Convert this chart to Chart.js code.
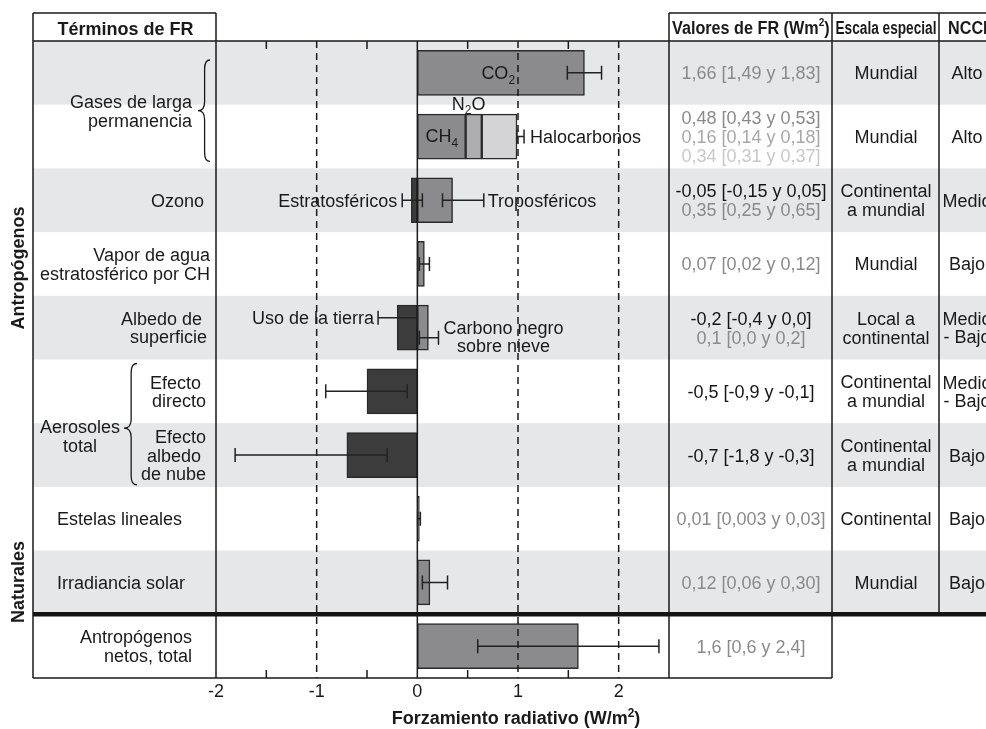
<!DOCTYPE html>
<html>
<head>
<meta charset="utf-8">
<script src="https://cdn.jsdelivr.net/npm/chart.js@4/dist/chart.umd.min.js"></script>
<style>
html,body{margin:0;padding:0;background:#fff;}
#wrap{width:986px;height:729px;position:relative;overflow:hidden;}
canvas{display:block;}
</style>
</head>
<body>
<div id="wrap"><canvas id="c" width="986" height="729"></canvas></div>
<script>
// ---------------- DATA ----------------
const categories = ['CO2','Otros gases','Ozono','Vapor de agua','Albedo de superficie','Efecto directo','Efecto albedo de nube','Estelas lineales','Irradiancia solar','Antropógenos netos'];

// floating bars [start, end] in W/m2 (null = no bar in that row)
const greyBars  = [[0,1.66],[0,0.48],[0,0.35],[0,0.07],[0,0.11],null,null,null,[0,0.125],[0,1.6]];
const n2oBars   = [null,[0.48,0.64],null,null,null,null,null,null,null,null];
const haloBars  = [null,[0.64,0.99],null,null,null,null,null,null,null,null];
const darkBars  = [null,null,[-0.06,0],null,[-0.2,0],[-0.5,0],[-0.7,0],[0,0.02],null,null];

// uncertainty ranges
const errRow  = [0,    1,    2,     2,    3,    4,     4,    5,     6,     7,     8,    9  ];
const errLow  = [1.49, 0.99, -0.15, 0.25, 0.02, -0.39, 0.02, -0.91, -1.81, 0.003, 0.05, 0.6];
const errHigh = [1.83, 1.06, 0.05,  0.66, 0.12, 0.0,   0.21, -0.10, -0.30, 0.03,  0.30, 2.4];

// x tick values are produced by the scale; labels shown at integers
const xTickLabels = ['-2','-1','0','1','2'];

// table columns
const valueText = [
  [['1,66 [1,49 y 1,83]','g1']],
  [['0,48 [0,43 y 0,53]','g1'],['0,16 [0,14 y 0,18]','g2'],['0,34 [0,31 y 0,37]','g3']],
  [['-0,05 [-0,15 y 0,05]','k'],['0,35 [0,25 y 0,65]','g1']],
  [['0,07 [0,02 y 0,12]','g1']],
  [['-0,2 [-0,4 y 0,0]','k'],['0,1 [0,0 y 0,2]','g1']],
  [['-0,5 [-0,9 y -0,1]','k']],
  [['-0,7 [-1,8 y -0,3]','k']],
  [['0,01 [0,003 y 0,03]','g1']],
  [['0,12 [0,06 y 0,30]','g1']],
  [['1,6 [0,6 y 2,4]','g1']]
];
const escala = [['Mundial'],['Mundial'],['Continental','a mundial'],['Mundial'],['Local a','continental'],['Continental','a mundial'],['Continental','a mundial'],['Continental'],['Mundial'],[]];
const nivel  = [['Alto'],['Alto'],['Medio'],['Bajo'],['Medio','- Bajo'],['Medio','- Bajo'],['Bajo'],['Bajo'],['Bajo'],[]];

// row labels in the "Términos de FR" column
const rowLabels = [
  [], [], ['Ozono'], ['Vapor de agua','estratosférico por CH'], ['Albedo de ','superficie'],
  ['Efecto ','directo'], ['Efecto','albedo ','de nube'], ['Estelas lineales'], ['Irradiancia solar'],
  ['Antropógenos','netos, total']
];

// ---------------- STYLE ----------------
const FONT = '"Liberation Sans", Arial, Helvetica, sans-serif';
const fnt = (s, b) => (b ? 'bold ' : '') + s + 'px ' + FONT;
const INK = '#1a1a1a';
const TXT = {k:'#151515', g1:'#8a8a8c', g2:'#a8a8aa', g3:'#c8c8ca'};
const ROWGREY = '#e6e7e9';
const TABLE_LEFT = 33, TABLE_TOP = 13, FIG_RIGHT = 986;
const COL_EDGES = [163, 270]; // offsets of column borders from chart right
const VAL_CENTER = 82, ESC_CENTER = 217, NIV_CENTER = 298; // offsets from chart right
const errShift = [0,0,0,0,0,-10,10,0,0,0,0,0];
const rowLabelPos = [null,null,['right',204],['right',210],['right',207],['right',206],['right',206],['left',57],['left',57],['right',192]];

function drawLines(ctx, lines, x, yc, lh, size, bold, align, colorFn) {
  ctx.font = fnt(size, bold);
  ctx.textAlign = align;
  ctx.textBaseline = 'alphabetic';
  const n = lines.length;
  lines.forEach((ln, k) => {
    const t = Array.isArray(ln) ? ln[0] : ln;
    ctx.fillStyle = colorFn ? colorFn(ln) : INK;
    ctx.fillText(t, x, yc + (k - (n - 1) / 2) * lh + size * 0.36);
  });
}
function richWidth(ctx, segs, size, bold) {
  let w = 0;
  segs.forEach(s => { ctx.font = fnt(s[1] ? size * 0.66 : size, bold); w += ctx.measureText(s[0]).width; });
  return w;
}
function drawRich(ctx, segs, x, yc, align, size, bold, color) {
  const w = richWidth(ctx, segs, size, bold);
  let cx = align === 'right' ? x - w : align === 'center' ? x - w / 2 : x;
  ctx.textAlign = 'left'; ctx.textBaseline = 'alphabetic'; ctx.fillStyle = color || INK;
  const base = yc + size * 0.36;
  segs.forEach(s => {
    const sz = s[1] ? size * 0.66 : size;
    ctx.font = fnt(sz, bold);
    const dy = s[1] === 'sub' ? size * 0.25 : s[1] === 'sup' ? -size * 0.4 : 0;
    ctx.fillText(s[0], cx, base + dy);
    cx += ctx.measureText(s[0]).width;
  });
}
function fitText(ctx, segs, cx, base, width, size, align) {
  const w = richWidth(ctx, segs, size, true);
  const sc = width ? Math.min(1, width / w) : 0.9;
  ctx.save();
  ctx.translate(cx, base);
  ctx.scale(sc, 1);
  let x0 = align === 'left' ? 0 : -w / 2;
  ctx.textAlign = 'left';
  ctx.textBaseline = 'alphabetic';
  ctx.fillStyle = INK;
  segs.forEach(s => {
    const sz = s[1] ? size * 0.62 : size;
    ctx.font = fnt(sz, true);
    ctx.fillText(s[0], x0, s[1] === 'sup' ? -size * 0.42 : 0);
    x0 += ctx.measureText(s[0]).width;
  });
  ctx.restore();
}
function brace(ctx, xTip, w, y0, y1, ym) {
  const r = 9;
  const xs = xTip + w * 0.55;
  ctx.beginPath();
  ctx.moveTo(xTip + w, y0);
  ctx.quadraticCurveTo(xs, y0, xs, y0 + r);
  ctx.lineTo(xs, ym - r);
  ctx.quadraticCurveTo(xs, ym, xTip, ym);
  ctx.quadraticCurveTo(xs, ym, xs, ym + r);
  ctx.lineTo(xs, y1 - r);
  ctx.quadraticCurveTo(xs, y1, xTip + w, y1);
  ctx.stroke();
}

const figurePlugin = {
  id: 'figure',
  beforeDatasetsDraw(chart) {
    const {ctx, chartArea: a, scales: {x, y}} = chart;
    const H = y.getPixelForValue(1) - y.getPixelForValue(0);
    ctx.save();
    // alternating row shading
    categories.forEach((c, i) => {
      if (i % 2 === 0) {
        const yc = y.getPixelForValue(i);
        ctx.fillStyle = ROWGREY;
        ctx.fillRect(TABLE_LEFT, yc - H / 2, FIG_RIGHT - TABLE_LEFT, H);
      }
    });
    // row labels
    rowLabels.forEach((lines, i) => {
      if (!lines.length) return;
      const p = rowLabelPos[i];
      drawLines(ctx, lines, p[1], y.getPixelForValue(i), 18.5, 18, false, p[0]);
    });
    // group labels with braces
    ctx.strokeStyle = INK; ctx.lineWidth = 1.3;
    const g0 = y.getPixelForValue(0) - H / 2 + 19, g1 = y.getPixelForValue(1) + H / 2 - 7;
    const gm = (g0 + g1) / 2;
    brace(ctx, 198, 12, g0, g1, gm);
    drawLines(ctx, ['Gases de larga','permanencia'], 192, gm, 19, 18, false, 'right');
    const a0 = y.getPixelForValue(5) - H / 2 + 4, a1 = y.getPixelForValue(6) + H / 2 - 2;
    const am = (y.getPixelForValue(5) + y.getPixelForValue(6)) / 2 + 5;
    brace(ctx, 124, 13, a0, a1, am);
    drawLines(ctx, ['Aerosoles','total'], 80, am + 8, 19, 18, false, 'center');
    // side group titles
    ctx.fillStyle = INK; ctx.font = fnt(18, true); ctx.textAlign = 'center'; ctx.textBaseline = 'middle';
    [['Antropógenos', 268], ['Naturales', 582]].forEach(([t, yy]) => {
      ctx.save(); ctx.translate(19, yy); ctx.rotate(-Math.PI / 2); ctx.fillText(t, 0, 0); ctx.restore();
    });
    // table columns text
    valueText.forEach((lines, i) => {
      drawLines(ctx, lines, a.right + VAL_CENTER, y.getPixelForValue(i), 19, 18, false, 'center', ln => TXT[ln[1]]);
    });
    escala.forEach((lines, i) => {
      if (lines.length) drawLines(ctx, lines, a.right + ESC_CENTER, y.getPixelForValue(i), 19, 18, false, 'center');
    });
    nivel.forEach((lines, i) => {
      if (lines.length) drawLines(ctx, lines, a.right + NIV_CENTER, y.getPixelForValue(i), 18, 18, false, 'center');
    });
    // headers
    ctx.fillStyle = INK; ctx.font = fnt(18, true); ctx.textAlign = 'center'; ctx.textBaseline = 'alphabetic';
    ctx.fillText('Términos de FR', (TABLE_LEFT + a.left) / 2 + 1, 34.5);
    fitText(ctx, [['Valores de FR (Wm'], ['2', 'sup'], [')']], a.right + VAL_CENTER, 33.5, 158, 18);
    fitText(ctx, [['Escala especial']], a.right + ESC_CENTER, 33.5, 101, 18);
    fitText(ctx, [['NCCI']], a.right + 279, 33.5, 0, 18, 'left');
    ctx.restore();
  },
  afterDatasetsDraw(chart) {
    const {ctx, chartArea: a, scales: {x, y}} = chart;
    ctx.save();
    ctx.strokeStyle = INK;
    // dashed reference lines and inward ticks
    x.ticks.forEach(t => {
      const px = x.getPixelForValue(t.value);
      if (t.value === x.min || t.value === x.max) return;
      ctx.lineWidth = 1.5;
      if (Number.isInteger(t.value)) {
        ctx.setLineDash(t.value === 0 ? [] : [7, 5]);
        ctx.beginPath(); ctx.moveTo(px, a.top); ctx.lineTo(px, a.bottom); ctx.stroke();
        ctx.setLineDash([]);
      } else {
        ctx.beginPath();
        ctx.moveTo(px, a.top); ctx.lineTo(px, a.top + 8);
        ctx.moveTo(px, a.bottom); ctx.lineTo(px, a.bottom - 8);
        ctx.stroke();
      }
    });
    // error bars
    ctx.lineWidth = 1.5; ctx.strokeStyle = '#222';
    const ep = errRow.map((r, k) => ({
      y: y.getPixelForValue(r) + errShift[k],
      x0: x.getPixelForValue(errLow[k]),
      x1: x.getPixelForValue(errHigh[k])
    }));
    ep.forEach(e => {
      ctx.beginPath();
      ctx.moveTo(e.x0, e.y); ctx.lineTo(e.x1, e.y);
      ctx.moveTo(e.x0, e.y - 7); ctx.lineTo(e.x0, e.y + 7);
      ctx.moveTo(e.x1, e.y - 7); ctx.lineTo(e.x1, e.y + 7);
      ctx.stroke();
    });
    // annotations
    const rc = i => y.getPixelForValue(i);
    drawRich(ctx, [['CO'], ['2', 'sub']], x.getPixelForValue(0.97), rc(0), 'right', 18, false);
    drawRich(ctx, [['CH'], ['4', 'sub']], x.getPixelForValue(0.08), rc(1) - 1, 'left', 18, false);
    drawRich(ctx, [['N'], ['2', 'sub'], ['O']], x.getPixelForValue(0.51), rc(1) - 22.5 - 11, 'center', 18, false);
    drawRich(ctx, [['Halocarbonos']], ep[1].x1 + 6, ep[1].y, 'left', 18, false);
    drawRich(ctx, [['Estratosféricos']], ep[2].x0 - 5, ep[2].y, 'right', 18, false);
    drawRich(ctx, [['Troposféricos']], ep[3].x1 + 4, ep[3].y, 'left', 18, false);
    drawRich(ctx, [['Uso de la tierra']], ep[5].x0 - 4, ep[5].y, 'right', 18, false);
    ctx.font = fnt(18, false);
    const wb = ctx.measureText('Carbono negro').width;
    drawLines(ctx, ['Carbono negro', 'sobre nieve'], ep[6].x1 + 5 + wb / 2, ep[6].y - 1, 18.5, 18, false, 'center');
    // table frame
    ctx.strokeStyle = INK; ctx.lineWidth = 1.5;
    const sepY = (y.getPixelForValue(8) + y.getPixelForValue(9)) / 2;
    const c1 = a.right + COL_EDGES[0], c2 = a.right + COL_EDGES[1];
    ctx.beginPath();
    [TABLE_LEFT, a.left, a.right, c1].forEach(xx => { ctx.moveTo(xx, TABLE_TOP); ctx.lineTo(xx, a.bottom); });
    ctx.moveTo(c2, TABLE_TOP); ctx.lineTo(c2, sepY);
    ctx.moveTo(TABLE_LEFT, TABLE_TOP); ctx.lineTo(a.left, TABLE_TOP);
    ctx.moveTo(a.right, TABLE_TOP); ctx.lineTo(FIG_RIGHT, TABLE_TOP);
    ctx.moveTo(TABLE_LEFT, a.top); ctx.lineTo(FIG_RIGHT, a.top);
    ctx.moveTo(TABLE_LEFT, a.bottom); ctx.lineTo(c1, a.bottom);
    ctx.stroke();
    ctx.lineWidth = 4.5; ctx.strokeStyle = '#151515';
    ctx.beginPath(); ctx.moveTo(TABLE_LEFT, sepY); ctx.lineTo(FIG_RIGHT, sepY); ctx.stroke();
    // x axis title
    drawRich(ctx, [['Forzamiento radiativo (W/m'], ['2', 'sup'], [')']], 516, 718, 'center', 18, true);
    ctx.restore();
  }
};

const common = {borderColor: '#2a2a2a', borderWidth: 1.5, barThickness: 45, grouped: false, borderSkipped: false};
new Chart(document.getElementById('c'), {
  type: 'bar',
  data: {
    labels: categories,
    datasets: [
      Object.assign({label: 'Principal', data: greyBars, backgroundColor: '#8b8b8d'}, common),
      Object.assign({label: 'N2O', data: n2oBars, backgroundColor: '#aeaeb0'}, common),
      Object.assign({label: 'Halocarbonos', data: haloBars, backgroundColor: '#d4d4d6'}, common),
      Object.assign({label: 'Negativos', data: darkBars, backgroundColor: '#3c3c3c'}, common)
    ]
  },
  options: {
    indexAxis: 'y',
    responsive: false,
    animation: false,
    devicePixelRatio: 1,
    layout: {padding: {left: 216, right: 317, top: 41, bottom: 23.4}},
    plugins: {legend: {display: false}, tooltip: {enabled: false}},
    scales: {
      x: {
        type: 'linear', min: -2, max: 2.5,
        grid: {display: false, drawTicks: false},
        border: {display: false},
        ticks: {
          stepSize: 0.5, autoSkip: false, maxRotation: 0, padding: 3,
          color: INK, font: {family: FONT, size: 18},
          callback: v => {
            const s = String(v);
            return xTickLabels.includes(s) ? s : '';
          }
        }
      },
      y: {display: false, offset: true}
    }
  },
  plugins: [figurePlugin]
});
</script>
</body>
</html>
